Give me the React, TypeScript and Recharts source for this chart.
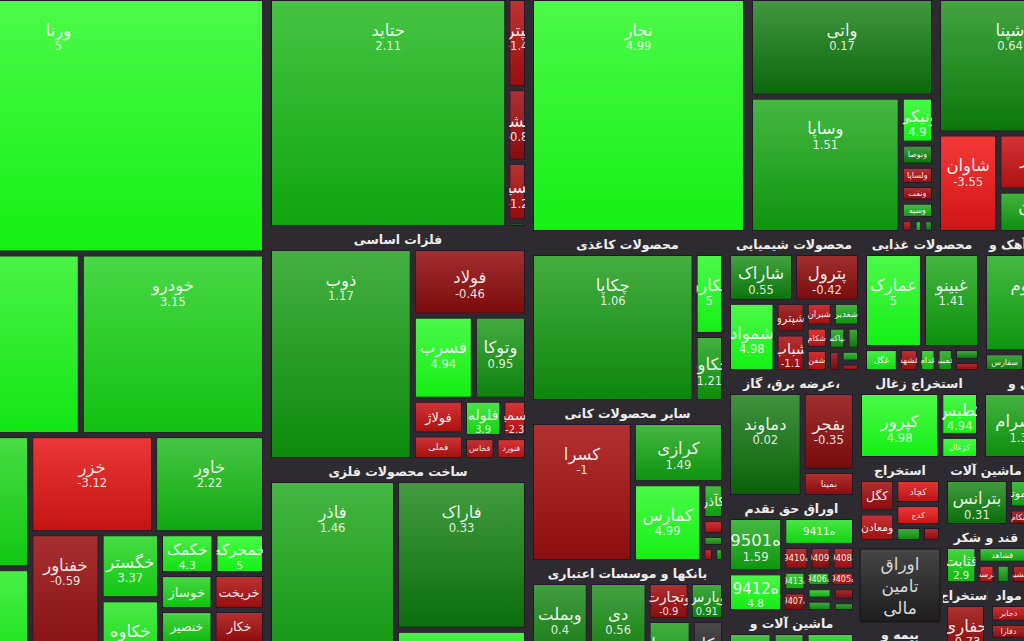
import React from "react";
import { Treemap } from "recharts";

type Stock = { name: string; size: number; chg: number };

// خودرو و ساخت قطعات
const autoMainStocks: Stock[] = [
  { name: "ورنا", size: 1095, chg: 5 },
  { name: "خساپا", size: 431, chg: 4.6 },
  { name: "خودرو", size: 350, chg: 3.15 },
];
const autoSideStocks: Stock[] = [
  { name: "خبهمن", size: 246, chg: 3.4 },
  { name: "خزامیا", size: 202, chg: 4.4 },
];
const autoRestStocks: Stock[] = [
  { name: "خزر", size: 126, chg: -3.12 },
  { name: "خاور", size: 113, chg: 2.22 },
  { name: "خفناور", size: 105, chg: -0.59 },
  { name: "خگستر", size: 41, chg: 3.37 },
  { name: "خکاوه", size: 48, chg: 4.1 },
  { name: "خکمک", size: 23, chg: 4.3 },
  { name: "خمحرکه", size: 21, chg: 5 },
  { name: "خوساز", size: 20, chg: 3.2 },
  { name: "خریخت", size: 19.5, chg: -1.3 },
  { name: "خنصیر", size: 19, chg: 2.9 },
  { name: "خمهر", size: 18.5, chg: 3.6 },
  { name: "خکار", size: 18, chg: -1.1 },
  { name: "خشرق", size: 18, chg: -0.9 },
];

const transportStocks: Stock[] = [
  { name: "حتاید", size: 604, chg: 2.11 },
  { name: "حپترو", size: 19.5, chg: -1.4 },
  { name: "حکشتی", size: 16, chg: -0.8 },
  { name: "حسینا", size: 13, chg: -1.2 },
  { name: "حآسا", size: 2.5, chg: 0.6 },
];

const metalStocks: Stock[] = [
  { name: "ذوب", size: 339, chg: 1.17 },
  { name: "فولاد", size: 86, chg: -0.46 },
  { name: "فسرب", size: 57, chg: 4.94 },
  { name: "وتوکا", size: 50, chg: 0.95 },
  { name: "فولاژ", size: 20, chg: -2.1 },
  { name: "فملی", size: 14, chg: -1.9 },
  { name: "فلوله", size: 16, chg: 3.9 },
  { name: "فاسمین", size: 10, chg: -2.3 },
  { name: "فخاس", size: 8, chg: -1.6 },
  { name: "فنورد", size: 8, chg: -2.4 },
];

const fabricatedStocks: Stock[] = [
  { name: "فاذر", size: 280, chg: 1.46 },
  { name: "فاراک", size: 219, chg: 0.33 },
  { name: "فنوال", size: 70, chg: 4.6 },
];

const najarStocks: Stock[] = [{ name: "نجار", size: 558, chg: 4.99 }];

const vatiStocks: Stock[] = [
  { name: "واتی", size: 201, chg: 0.17 },
  { name: "وساپا", size: 228, chg: 1.51 },
  { name: "ونیکی", size: 17.4, chg: 4.9 },
  { name: "وتوصا", size: 8, chg: 0.4 },
  { name: "ولساپا", size: 7.2, chg: -1.3 },
  { name: "ونفت", size: 6, chg: -0.9 },
  { name: "وسپه", size: 6.3, chg: 1.8 },
  { name: "وصنعت", size: 2, chg: -1 },
  { name: "وبانک", size: 1.5, chg: 2 },
  { name: "وغدیر", size: 1.6, chg: 0.3 },
];

const binaStocks: Stock[] = [
  { name: "شپنا", size: 217, chg: 0.64 },
  { name: "شاوان", size: 67, chg: -3.55 },
  { name: "شبندر", size: 53, chg: -2.2 },
  { name: "شتران", size: 40, chg: 1.3 },
];

const paperStocks: Stock[] = [
  { name: "چکاپا", size: 282, chg: 1.06 },
  { name: "چکارن", size: 28, chg: 5 },
  { name: "چکاوه", size: 23, chg: 1.21 },
];

const mineralStocks: Stock[] = [
  { name: "کسرا", size: 166, chg: -1 },
  { name: "کرازی", size: 65, chg: 1.49 },
  { name: "کمارس", size: 64, chg: 4.99 },
  { name: "کآذر", size: 9, chg: 1.8 },
  { name: "کفپارس", size: 4, chg: -2.1 },
  { name: "کساوه", size: 3, chg: 0.9 },
  { name: "کهمدا", size: 2, chg: -1.5 },
  { name: "کتاژ", size: 2, chg: 1.2 },
];

const bankStocks: Stock[] = [
  { name: "وبملت", size: 68, chg: 0.4 },
  { name: "دی", size: 69, chg: 0.56 },
  { name: "وتجارت", size: 20, chg: -0.9 },
  { name: "وپارس", size: 16, chg: 0.91 },
  { name: "وسینا", size: 31, chg: 1.2 },
  { name: "وکار", size: 23, chg: 0 },
];

const chemStocks: Stock[] = [
  { name: "شاراک", size: 39, chg: 0.55 },
  { name: "پترول", size: 38, chg: -0.42 },
  { name: "شمواد", size: 40, chg: 4.98 },
  { name: "شپترو", size: 11.5, chg: -0.6 },
  { name: "شباب", size: 14, chg: -1.1 },
  { name: "شیران", size: 8, chg: -1.8 },
  { name: "شغدیر", size: 8, chg: 1.4 },
  { name: "شکام", size: 6, chg: -2.6 },
  { name: "شفن", size: 6, chg: -2 },
  { name: "شپاکسا", size: 5, chg: 1.1 },
  { name: "شسینا", size: 4, chg: 0.7 },
  { name: "شخارک", size: 3.5, chg: -0.5 },
  { name: "شلعاب", size: 3, chg: 1.6 },
  { name: "شدوص", size: 3, chg: -0.9 },
];

const foodStocks: Stock[] = [
  { name: "عمارک", size: 68, chg: 5 },
  { name: "غبینو", size: 65, chg: 1.41 },
  { name: "غگل", size: 10, chg: 4.2 },
  { name: "غشهد", size: 6, chg: -1.3 },
  { name: "غدام", size: 5, chg: 2.8 },
  { name: "غمینو", size: 5, chg: 1.5 },
  { name: "غپینو", size: 4, chg: 0.8 },
  { name: "غشان", size: 4, chg: -1.2 },
];

const cementStocks: Stock[] = [
  { name: "ساروم", size: 118, chg: 1.6 },
  { name: "سفارس", size: 10, chg: 0.8 },
  { name: "سشمال", size: 8, chg: -0.5 },
  { name: "سخزر", size: 6, chg: 1.2 },
];

const powerStocks: Stock[] = [
  { name: "دماوند", size: 96, chg: 0.02 },
  { name: "بفجر", size: 51, chg: -0.35 },
  { name: "بمپنا", size: 17, chg: -0.9 },
];

const rightsStocks: Stock[] = [
  { name: "ه9501", size: 38, chg: 1.59 },
  { name: "ه9412", size: 28, chg: 4.8 },
  { name: "ه9411", size: 26, chg: 3.9 },
  { name: "ه9410", size: 8, chg: -1.2 },
  { name: "ه9409", size: 7, chg: -0.8 },
  { name: "ه9408", size: 7, chg: -1.4 },
  { name: "ه9413", size: 6, chg: 2.3 },
  { name: "ه9407", size: 6, chg: -0.6 },
  { name: "ه9406", size: 5, chg: 1.9 },
  { name: "ه9405", size: 5, chg: -1.7 },
  { name: "ه9404", size: 4, chg: 2.5 },
  { name: "ه9403", size: 4, chg: 1.1 },
  { name: "ه9402", size: 4, chg: -0.5 },
  { name: "ه9401", size: 3, chg: 0.7 },
];

const machineryStocks: Stock[] = [
  { name: "تکنو", size: 30, chg: 2.1 },
  { name: "لابسا", size: 22, chg: 1.4 },
  { name: "فنر", size: 15, chg: 3.2 },
  { name: "لبوتان", size: 10, chg: 0.6 },
  { name: "لخزر", size: 8, chg: 2.5 },
];

const coalStocks: Stock[] = [
  { name: "کپرور", size: 73, chg: 4.98 },
  { name: "کطبس", size: 23, chg: 4.94 },
  { name: "کزغال", size: 12, chg: 5 },
];

const tileStocks: Stock[] = [
  { name: "کسرام", size: 65, chg: 1.3 },
  { name: "کحافظ", size: 25, chg: 0.7 },
];

const oreStocks: Stock[] = [
  { name: "کگل", size: 17, chg: -0.9 },
  { name: "ومعادن", size: 15, chg: -1.6 },
  { name: "کچاد", size: 16, chg: -2.7 },
  { name: "کدج", size: 14, chg: -3.3 },
  { name: "کروی", size: 6, chg: 1.2 },
  { name: "کبافق", size: 4, chg: -1 },
];

const insuranceStocks: Stock[] = [
  { name: "وآسیا", size: 18, chg: 0.8 },
  { name: "البرز", size: 12, chg: -0.4 },
  { name: "ودانا", size: 9, chg: 1.6 },
  { name: "کوثر", size: 7, chg: 0.3 },
];

const electricStocks: Stock[] = [
  { name: "بترانس", size: 45, chg: 0.31 },
  { name: "بموتو", size: 8, chg: 1.7 },
  { name: "بکام", size: 4.6, chg: -0.6 },
];

const computerStocks: Stock[] = [
  { name: "مفاخر", size: 20, chg: 0.5 },
  { name: "رتاپ", size: 16.4, chg: 1.2 },
];

const sugarStocks: Stock[] = [
  { name: "قثابت", size: 20, chg: 2.9 },
  { name: "قشاهد", size: 14, chg: 1.9 },
  { name: "قلرست", size: 6, chg: -2.4 },
  { name: "قنیشا", size: 5, chg: 1.2 },
  { name: "قشیر", size: 5, chg: -1.1 },
];

const farmStocks: Stock[] = [
  { name: "زکشت", size: 18, chg: 1.1 },
  { name: "زماهان", size: 14, chg: -0.7 },
];

const oilStocks: Stock[] = [
  { name: "حفاری", size: 30, chg: -0.73 },
  { name: "حفارس", size: 12, chg: 0.4 },
];

const pharmaStocks: Stock[] = [
  { name: "دجابر", size: 10, chg: -1.8 },
  { name: "دفارا", size: 9, chg: -0.9 },
  { name: "دلر", size: 7, chg: 1.1 },
  { name: "دکیمی", size: 6, chg: -1.4 },
  { name: "داسوه", size: 6, chg: 0.5 },
];

const estateStocks: Stock[] = [
  { name: "ثشرق", size: 20, chg: 0.9 },
  { name: "وساخت", size: 17, chg: -0.4 },
  { name: "ثاخت", size: 14, chg: 1.3 },
];

const bondBoxSize = 70;

const sector = (name: string, stocks: any[]) => ({ name, kind: "sector", children: stocks.map((s) => ({ ...s })) });
const group = (name: string, children: any[]) => ({ name, kind: "group", children });

const treeData = [
  sector("خودرو و ساخت قطعات", [...autoMainStocks, group("g-auto-side", autoSideStocks), ...autoRestStocks]),
  group("g-right", [
    group("g-col2", [
      sector("حمل و نقل، انبارداری و ارتباطات", transportStocks),
      group("g-col2b", [sector("فلزات اساسی", metalStocks), sector("ساخت محصولات فلزی", fabricatedStocks)]),
    ]),
    group("g-rest", [
      group("g-top", [
        sector("چند رشته ای صنعتی", najarStocks),
        group("g-top2", [
          sector("سرمایه گذاریها", vatiStocks),
          sector("فراورده های نفتی، کک و سوخت هسته ای", binaStocks),
        ]),
      ]),
      group("g-lower", [
        group("g-l1", [
          sector("محصولات کاغذی", paperStocks),
          sector("سایر محصولات کانی غیرفلزی", mineralStocks),
          sector("بانکها و موسسات اعتباری", bankStocks),
        ]),
        group("g-lr", [
          group("g-lrtop", [
            sector("محصولات شیمیایی", chemStocks),
            sector("محصولات غذایی و آشامیدنی", foodStocks),
            sector("سیمان، آهک و گچ", cementStocks),
          ]),
          group("g-lrbot", [
            group("g-l2b", [
              sector("عرضه برق، گاز، بخار و آب گرم", powerStocks),
              sector("اوراق حق تقدم استفاده از تسهیلات مسکن", rightsStocks),
              sector("ماشین آلات و تجهیزات", machineryStocks),
            ]),
            group("g-l3", [
              group("g-l3r2", [sector("استخراج زغال سنگ", coalStocks), sector("کاشی و سرامیک", tileStocks)]),
              group("g-l3r3", [
                group("g-l3b1", [
                  sector("استخراج کانه های فلزی", oreStocks),
                  { name: "اوراق تامین مالی", kind: "box", size: bondBoxSize },
                  sector("بیمه و صندوق بازنشستگی", insuranceStocks),
                ]),
                group("g-l3b2", [
                  group("g-r1", [
                    sector("ماشین آلات و دستگاههای برقی", electricStocks),
                    sector("رایانه و فعالیتهای وابسته", computerStocks),
                  ]),
                  group("g-l3b2r", [
                    group("g-r2", [sector("قند و شکر", sugarStocks), sector("زراعت و خدمات وابسته", farmStocks)]),
                    group("g-r3", [
                      sector("استخراج نفت گاز و خدمات جنبی", oilStocks),
                      group("g-r3b", [
                        sector("مواد و محصولات دارویی", pharmaStocks),
                        sector("انبوه سازی، املاک و مستغلات", estateStocks),
                      ]),
                    ]),
                  ]),
                ]),
              ]),
            ]),
          ]),
        ]),
      ]),
    ]),
  ]),
];

const BG = "#2e2b30";
const HDR = 18;

const rgb = (r: number, g: number, b: number) =>
  `rgb(${Math.round(Math.min(255, r))},${Math.round(Math.min(255, g))},${Math.round(Math.min(255, b))})`;

// green for gains, red for losses, grey for no change; lighter at the top of a cell
function shade(chg: number | undefined): [string, string] {
  if (chg === undefined || chg === 0) return ["#4a4a4a", "#262626"];
  const k = Math.pow(Math.min(Math.abs(chg) / 5, 1), 0.85);
  if (chg > 0) {
    const g = 95 + 145 * k;
    const rb = 10 + 10 * k;
    return [rgb(rb + 55, g + (255 - g) * 0.28 + 6, rb + 52), rgb(rb, g, rb)];
  }
  const r = 105 + 135 * k;
  const gb = 10 + 15 * k;
  return [rgb(r + 40, gb + 35, gb + 35), rgb(r, gb, gb)];
}

function fitTitle(title: string, width: number) {
  let out = "";
  for (const w of title.split(" ")) {
    const next = out ? out + " " + w : w;
    if (out && next.length * 8 > width - 6) break;
    out = next;
  }
  return out;
}

function leavesOf(node: any): any[] {
  return node.children && node.children.length ? node.children.flatMap(leavesOf) : [node];
}

function drawCell(c: any, x: number, y: number, w: number, h: number) {
  const cw = w - 4;
  const ch = h - 4;
  if (cw <= 0 || ch <= 0) return null;
  const [top, bottom] = shade(c.chg);
  const id = `cg_${Math.round(x * 10)}_${Math.round(y * 10)}`;
  const fs = Math.max(8, Math.min(16.5, ch * 0.42));
  const vfs = Math.max(6, fs * 0.7);
  const showText = cw >= 12 && ch >= 12;
  const showValue = ch >= 33;
  const cy = ch > 70 ? 34 : showValue ? ch / 2 : ch / 2 + fs * 0.35;
  const nameY = showValue ? cy + fs * 0.1 : cy;
  return (
    <svg key={id} x={x + 2} y={y + 2} width={cw} height={ch} overflow="hidden">
      <defs>
        <linearGradient id={id} x1="0" y1="0" x2="0" y2="1">
          <stop offset="0%" stopColor={top} />
          <stop offset="100%" stopColor={bottom} />
        </linearGradient>
      </defs>
      <rect x={0.5} y={0.5} width={cw - 1} height={ch - 1} fill={`url(#${id})`} stroke="#23172a" strokeWidth={1} />
      {showText && (
        <text x={cw / 2} y={nameY} textAnchor="middle" fontSize={fs} fill="#ffffff" fillOpacity={0.92}>
          {c.name}
        </text>
      )}
      {showText && showValue && (
        <text x={cw / 2} y={nameY + vfs + 3} textAnchor="middle" fontSize={vfs} fill="#ffffff" fillOpacity={0.88}>
          {String(c.chg)}
        </text>
      )}
    </svg>
  );
}

function drawSector(p: any) {
  const { x, y, width, height, name } = p;
  const kx = (width - 4) / width;
  const ky = (height - HDR - 2) / height;
  const cells = leavesOf(p);
  return (
    <g>
      <svg x={x} y={y} width={width} height={HDR} overflow="hidden">
        <text x={width / 2} y={13.5} textAnchor="middle" fontSize={12.5} fontWeight="bold" fill="#eeeeee">
          {fitTitle(name, width)}
        </text>
      </svg>
      {cells.map((c) => drawCell(c, x + 2 + (c.x - x) * kx, y + HDR + (c.y - y) * ky, c.width * kx, c.height * ky))}
    </g>
  );
}

function drawBox(p: any) {
  const { x, y, width, height, name } = p;
  const lines = String(name).split(" ");
  const cy = y + height / 2;
  return (
    <g>
      <defs>
        <linearGradient id="bondGrad" x1="0" y1="0" x2="0" y2="1">
          <stop offset="0%" stopColor="#454545" />
          <stop offset="100%" stopColor="#1d1d1d" />
        </linearGradient>
      </defs>
      <rect x={x + 3} y={y + 5} width={width - 6} height={height - 8} rx={2} fill="url(#bondGrad)" stroke="#151515" />
      {lines.map((l, i) => (
        <text key={l} x={x + width / 2} y={cy + (i - (lines.length - 1) / 2) * 22 + 7} textAnchor="middle" fontSize={17} fill="#d8d8d8">
          {l}
        </text>
      ))}
    </g>
  );
}

const renderNode = (p: any) => {
  if (p.kind === "sector") return drawSector(p);
  if (p.kind === "box") return drawBox(p);
  return <g />;
};

export default function App() {
  return (
    <div
      style={{
        position: "fixed",
        left: 0,
        top: 0,
        width: 1024,
        height: 641,
        overflow: "hidden",
        background: BG,
        fontFamily: '"DejaVu Sans", sans-serif',
      }}
    >
      <div style={{ position: "absolute", left: -150, top: -20 }}>
        <Treemap
          width={1234}
          height={699}
          data={treeData}
          dataKey="size"
          aspectRatio={1}
          isAnimationActive={false}
          content={renderNode}
        />
      </div>
    </div>
  );
}
